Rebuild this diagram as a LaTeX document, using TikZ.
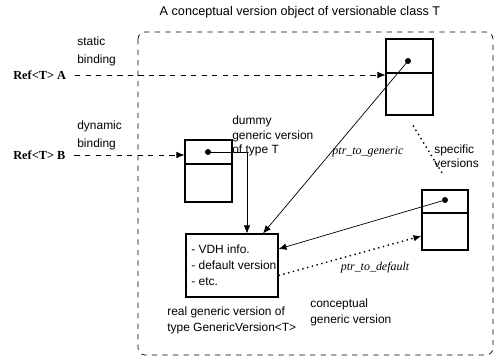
\documentclass[tikz,border=0pt]{standalone}
\usepackage{fontspec}
\setmainfont{Liberation Serif}
\setsansfont{Liberation Sans}
\usetikzlibrary{arrows.meta}

\tikzset{
	lbl/.style={font=\sffamily\fontsize{6.8}{8.2}\selectfont, align=left, inner sep=0pt},
	ref/.style={font=\bfseries\fontsize{7}{8}\selectfont, inner sep=0pt},
	ptr/.style={font=\itshape\fontsize{6.8}{8}\selectfont, inner sep=0pt},
	vbox/.style={draw, semithick, minimum width=0.94cm, inner sep=0pt}
}

\begin{document}
\begin{tikzpicture}[x=0.02cm, y=-0.02cm, >={Latex[length=1.6mm, width=1.3mm]}]
	\useasboundingbox (0,0) rectangle (501,358);
	\node[lbl, font=\sffamily\fontsize{7.2}{8.5}\selectfont] (title) at (300,12) {A conceptual version object of versionable class T};
	\draw[dashed, rounded corners=4pt] (138,32) rectangle (493,355);
	\node[vbox, minimum height=1.52cm] (spA) at (409.5,77) {};
	\node[vbox, minimum height=1.24cm] (dum) at (208.5,171) {};
	\node[vbox, minimum width=0.92cm, minimum height=1.2cm] (spB) at (445,220) {};
	\node[vbox, minimum width=1.84cm, minimum height=1.26cm] (gen) at (232,265.5) {};
	\foreach \b/\y in {spA/73, dum/164, spB/213} {\draw[semithick] (\b.west |- 0,\y) -- (\b.east |- 0,\y);}
	\coordinate (dA) at (408,61);
	\coordinate (dD) at (208,152);
	\coordinate (dB) at (445,200);
	\foreach \c in {dA,dD,dB} {\fill (\c) circle (1.7pt);}
	\node[lbl, anchor=west] (vdh) at (191,265.5) {- VDH info.\\[1pt] - default version\\[1pt] - etc.};
	\node[ref, anchor=west] (refA) at (13,75) {Ref<T> A};
	\node[ref, anchor=west] (refB) at (13,155) {Ref<T> B};
	\draw[->, dashed, shorten <=5pt] (refA) -- (refA -| spA.west);
	\draw[->, dashed, shorten <=5pt] (refB) -- (refB -| dum.west);
	\node[lbl, anchor=west] (stat) at (77,51) {static\\[2pt]binding};
	\node[lbl, anchor=west] (dyn) at (77,135) {dynamic\\[2pt]binding};
	\node[lbl, anchor=west] (dumlbl) at (232,136) {dummy\\generic version\\of type T};
	\node[lbl, anchor=west] (spec) at (434,156) {specific\\versions};
	\node[lbl, anchor=west] (real) at (167,320) {real generic version of\\[1pt]type GenericVersion<T>};
	\node[lbl, anchor=west] (conc) at (310,312) {conceptual\\[1pt]generic version};
	\draw[->] (dD) -| ([xshift=0.3cm]gen.north);
	\draw[->] (dA) -- ([xshift=0.62cm]gen.north);
	\draw[->] (dB) -- ([yshift=0.33cm]gen.east);
	\draw[->, dotted, thick] ([yshift=-0.2cm]gen.east) -- ([yshift=-0.32cm]spB.west);
	\draw[dotted, thick] ([xshift=0.07cm, yshift=-0.2cm]spA.south) -- ([xshift=-0.04cm, yshift=0.3cm]spB.north);
	\node[ptr] (pgen) at (368,152) {ptr\_to\_generic};
	\node[ptr] (pdef) at (375,268) {ptr\_to\_default};
\end{tikzpicture}
\end{document}
